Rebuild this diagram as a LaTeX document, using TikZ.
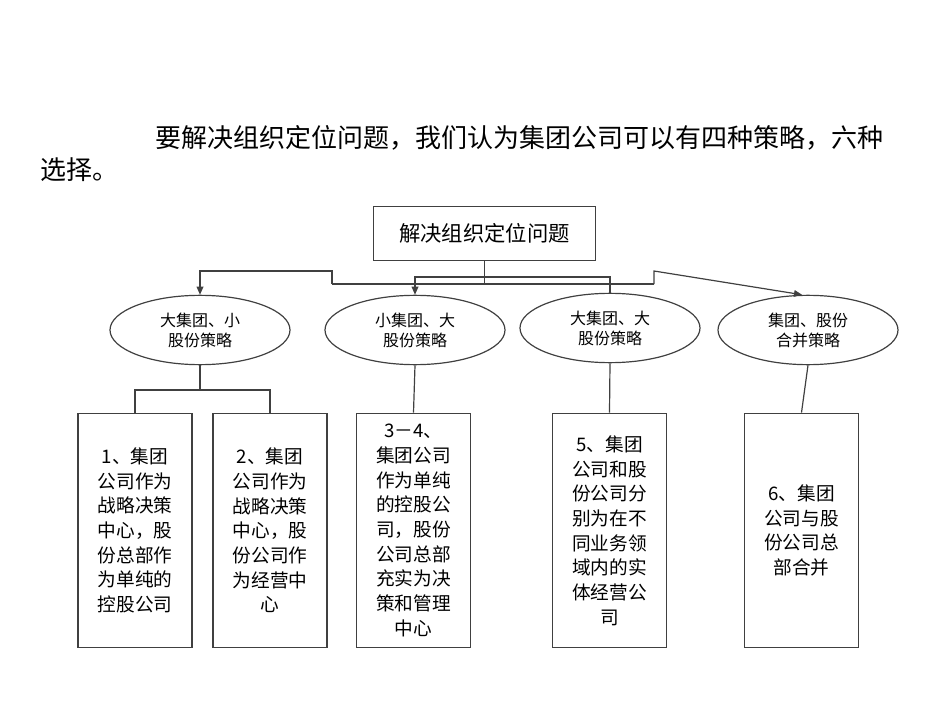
\documentclass[tikz,border=0pt]{standalone}
\usepackage{fontspec}
\setmainfont{Noto Sans CJK SC}
\usetikzlibrary{shapes.geometric,arrows.meta}
\begin{document}
\begin{tikzpicture}[x=0.75pt,y=-0.75pt,
  ln/.style={draw=black!75,line width=0.9pt},
  arr/.style={ln,-{Triangle[length=6pt,width=5pt]}},
  ell/.style={ellipse,draw=black!75,line width=0.9pt,minimum width=135pt,minimum height=52pt,font=\fontsize{12}{15}\selectfont,align=center,inner sep=0pt},
  bx/.style={draw=black!75,line width=0.9pt,minimum width=85.5pt,minimum height=176pt,font=\fontsize{14}{18.5}\selectfont,align=center,inner sep=0pt}]
\useasboundingbox (0,0) rectangle (950,713);
\node[anchor=base west,font=\fontsize{19.5}{24}\selectfont,inner sep=0] (t1) at (155,148) {要解决组织定位问题，我们认为集团公司可以有四种策略，六种};
\node[anchor=base west,font=\fontsize{19.5}{24}\selectfont,inner sep=0] (t2) at (40,180) {选择。};
\node[draw=black!75,line width=0.9pt,minimum width=167pt,minimum height=40pt,font=\fontsize{16}{20}\selectfont] (top) at (484.5,233.5) {解决组织定位问题};
\node[ell] (e1) at (200,330) {大集团、小\\股份策略};
\node[ell] (e2) at (415,330) {小集团、大\\股份策略};
\node[ell] (e3) at (610,328) {大集团、大\\股份策略};
\node[ell] (e4) at (808,330) {集团、股份\\合并策略};
\node[bx] (b1) at (135,530.5) {1、集团\\公司作为\\战略决策\\中心，股\\份总部作\\为单纯的\\控股公司};
\node[bx] (b2) at (270,530.5) {2、集团\\公司作为\\战略决策\\中心，股\\份公司作\\为经营中\\心};
\node[bx] (b3) at (413.5,530.5) {3－4、\\集团公司\\作为单纯\\的控股公\\司，股份\\公司总部\\充实为决\\策和管理\\中心};
\node[bx] (b4) at (609.5,530.5) {5、集团\\公司和股\\份公司分\\别为在不\\同业务领\\域内的实\\体经营公\\司};
\node[bx] (b5) at (801.5,530.5) {6、集团\\公司与股\\份公司总\\部合并};
\coordinate (j) at (484.5,284);
\draw[ln] (top.south) -- (j);
\draw[arr] (332,284) -- (332,271) -- (200,271) -- (e1.north);
\draw[ln] (332,284) -- (654,284);
\draw[arr] (654,284) -- (654,271) -- (e4.north -| 802,0) ;
\draw[arr] (484.5,277) -- (415,277) -- (e2.north);
\draw[ln] (484.5,277) -- (610,277) -- (e3.north);
\draw[ln] (e1.south) -- (200,390);
\draw[ln] (b1.north) -- (135,390) -- (270,390) -- (b2.north);
\draw[ln] (e2.south) -- (b3.north);
\draw[ln] (e3.south) -- (b4.north);
\draw[ln] (e4.south) -- (b5.north);
\end{tikzpicture}
\end{document}
